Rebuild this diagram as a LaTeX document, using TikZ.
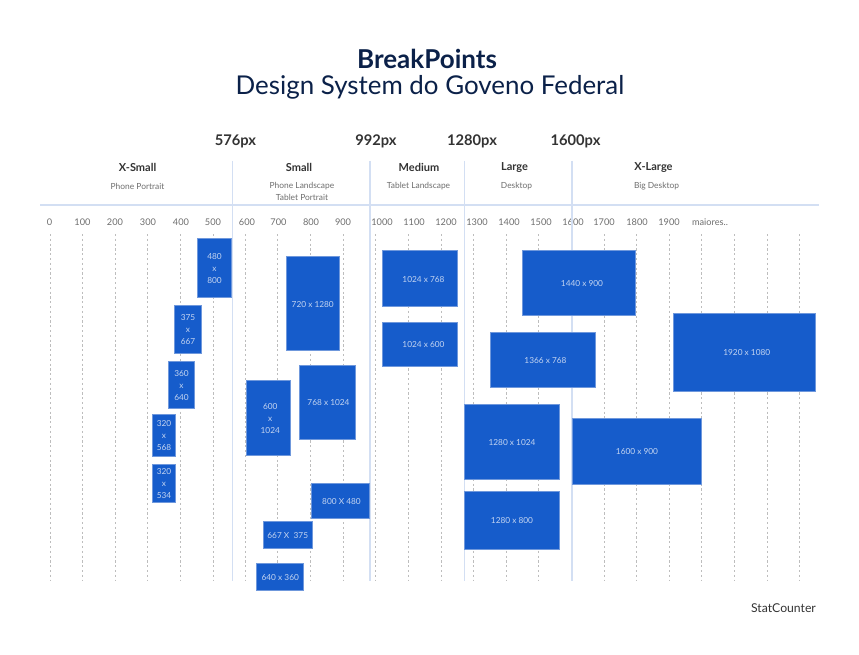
\documentclass[tikz,border=0pt]{standalone}
\usepackage{fontspec}
\setmainfont{Lato}
\definecolor{navy}{HTML}{0B2149}
\definecolor{boxblue}{HTML}{165CCB}
\definecolor{boxedge}{HTML}{6F98DC}
\definecolor{boxtext}{HTML}{C3D4F1}
\definecolor{rulecol}{HTML}{D3DFF3}
\definecolor{inkdark}{HTML}{333333}
\definecolor{inkgray}{HTML}{6E6E6E}
\definecolor{gridcol}{HTML}{BDBDBD}
\tikzset{
  x=1pt,y=-1pt,
  titlebold/.style={font=\fontsize{26}{30}\selectfont\bfseries,text=navy,inner sep=0},
  titlelight/.style={font=\fontsize{25.9}{30}\selectfont,text=navy,inner sep=0},
  bp/.style={font=\fontsize{14.7}{16}\selectfont\bfseries,text=inkdark,inner sep=0},
  cls/.style={font=\fontsize{11}{12}\selectfont\bfseries,text=inkdark,inner sep=0},
  dev/.style={font=\fontsize{8.4}{12.5}\selectfont,text=inkgray,inner sep=0,align=center},
  tick/.style={font=\fontsize{9.2}{11}\selectfont,text=inkgray,inner sep=0},
  scr/.style={fill=boxblue,draw=boxedge,line width=.5pt,inner sep=0},
  scrtext/.style={inner sep=0,text=boxtext,align=center,font=\fontsize{8.3}{12}\selectfont},
  gridl/.style={draw=gridcol,line width=.6pt,dash pattern=on 2.2pt off 2.6pt},
  mainrule/.style={draw=rulecol,line width=1.2pt},
}
% x0, y0, x1, y1, text, name, text x offset
\newcommand{\scrbox}[7]{%
  \node[scr,minimum width=#3pt-#1pt-.5pt,minimum height=#4pt-#2pt-.5pt] (#6) at ({(#1+#3)/2-.4},{(#2+#4)/2-.4}) {};
  \node[scrtext] (#6t) at ({(#1+#3)/2+#7},{(#2+#4)/2+.5}) {#5};}
\begin{document}
\begin{tikzpicture}
\useasboundingbox (0,0) rectangle (859,655);
\fill[white] (0,0) rectangle (859,655);
\node[titlebold] (title) at (427,59) {BreakPoints};
\node[titlelight] (subtitle) at (430,87) {Design System do Goveno Federal};
\node[bp] (p576) at (235.5,141.5) {576px};
\node[bp] (p992) at (376,141.5) {992px};
\node[bp] (p1280) at (472,141.5) {1280px};
\node[bp] (p1600) at (575.5,141.5) {1600px};
\node[cls] (c1) at (137.5,167.5) {X-Small};
\node[cls] (c2) at (299,167.5) {Small};
\node[cls] (c3) at (419,167.5) {Medium};
\node[cls] (c4) at (514.5,167.5) {Large};
\node[cls] (c5) at (653.5,167.5) {X-Large};
\node[dev] (d1) at (137.5,186.5) {Phone Portrait};
\node[dev] (d2) at (302,191.5) {Phone Landscape\\[-.5pt]Tablet Portrait};
\node[dev] (d3) at (418.5,186.5) {Tablet Landscape};
\node[dev] (d4) at (516.5,186.5) {Desktop};
\node[dev] (d5) at (656.5,186.5) {Big Desktop};
% scale labels
\foreach \lab/\px in {0/49.5,100/82.5,200/115,300/148,400/181,500/213,600/247,700/278.5,800/311,900/343,1000/382,1100/414,1200/446,1300/477,1400/509,1500/541,1600/573,1700/604,1800/637,1900/669}
  \node[tick] (t\lab) at (\px,222) {\lab};
\node[tick] (tmore) at (710,222) {maiores..};
% dotted grid
\foreach \gx in {50.3,82.6,115.3,147.3,180.3,213.3,245.3,277.3,310.3,343.3,375.3,408,441,473.3,506.3,538.3,571.3,604.3,636.3,669.3,701.3,734.3,767.3,799.3}
  \draw[gridl] (\gx,234) -- (\gx,581);
% rules
\coordinate (hl) at (40,205); \coordinate (hr) at (819,205);
\draw[mainrule] (hl) -- (hr);
\foreach \vx in {232.5,370,464.5,572}
  \draw[mainrule] (\vx,161) -- (\vx,581);
% boxes
\scrbox{197}{238.5}{232}{297.5}{480\\x\\800}{b1}{0}
\scrbox{174}{305}{202}{354}{375\\x\\667}{b2}{0}
\scrbox{168}{361}{195}{408.5}{360\\x\\640}{b3}{0}
\scrbox{152}{414}{176}{456.5}{320\\x\\568}{b4}{0}
\scrbox{152}{464}{176}{503}{320\\x\\534}{b5}{0}
\scrbox{286}{256.5}{339.5}{351}{720 x 1280}{b6}{0}
\scrbox{246}{380.5}{290.5}{456}{600\\x\\1024}{b7}{2}
\scrbox{299}{365}{356}{440}{768 x 1024}{b8}{1}
\scrbox{311}{483.5}{370}{518.5}{800 X 480}{b9}{1}
\scrbox{263}{521}{312.5}{548.5}{667 X\ \ 375}{b10}{0}
\scrbox{256.5}{563.5}{304}{591}{640 x 360}{b11}{0}
\scrbox{382}{250.5}{458}{307}{1024 x 768}{b12}{3.5}
\scrbox{382}{322}{458}{367}{1024 x 600}{b13}{3.5}
\scrbox{522.5}{250}{635.5}{316}{1440 x 900}{b14}{3}
\scrbox{490}{332}{596}{388}{1366 x 768}{b15}{2.5}
\scrbox{464.5}{404}{559.5}{480}{1280 x 1024}{b16}{0}
\scrbox{464.5}{491}{559.5}{550}{1280 x 800}{b17}{0}
\scrbox{572}{418}{702}{485}{1600 x 900}{b18}{0}
\scrbox{673.5}{313}{816}{392}{1920 x 1080}{b19}{2}
\node[font=\fontsize{12.2}{13}\selectfont,text=inkdark,inner sep=0] (src) at (783.5,608) {StatCounter};
\end{tikzpicture}
\end{document}
